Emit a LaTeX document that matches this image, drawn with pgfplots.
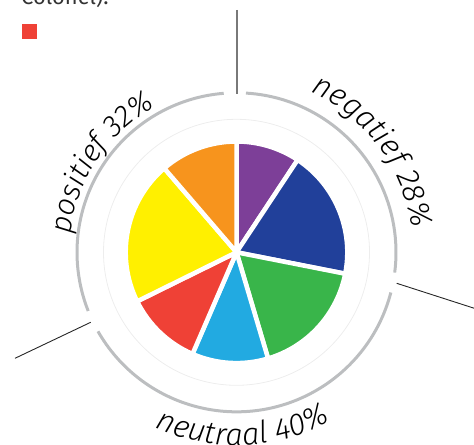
\documentclass[border=0pt]{standalone}
\usepackage{pgfplots}
\pgfplotsset{compat=1.18}
\usepackage{pgfplotstable}
\usepackage{fontspec}
\setmainfont{Fira Sans}
\newfontfamily\lbl{Fira Sans Light Italic}
\usetikzlibrary{decorations.text}

\definecolor{cpurple}{HTML}{7D3F98}
\definecolor{cblue}{HTML}{21409A}
\definecolor{cgreen}{HTML}{39B54A}
\definecolor{ccyan}{HTML}{22AAE1}
\definecolor{cred}{HTML}{EF4136}
\definecolor{cyellow}{HTML}{FFF000}
\definecolor{corange}{HTML}{F7941D}
\definecolor{ring}{HTML}{BCBEC0}

% slices clockwise from 12 o'clock, share in %
\pgfplotstableread{
share col
9.3  cpurple
18.8 cblue
17.3 cgreen
11.1 ccyan
11.2 cred
21.0 cyellow
11.3 corange
}\slices

\def\cx{236.5}
\def\cy{192.7}

\begin{document}
\begin{tikzpicture}
\path[use as bounding box] (0,0) rectangle (474bp,445bp);
\clip (0,0) rectangle (474bp,445bp);
\begin{axis}[
	at={(0,0)}, anchor=south west,
	scale only axis,
	width=474bp, height=445bp,
	xmin=0, xmax=474, ymin=0, ymax=445,
	hide axis, clip=false,
]
% divider lines between the three groups
\addplot[draw=gray!95!black, line width=2bp] coordinates {(236.6,435) (236.6,351)};
\addplot[draw=black!85, line width=0.9bp] coordinates {(396.7,161.7) (474.3,136.7)};
\addplot[draw=black!85, line width=0.9bp] coordinates {(90.7,122.7) (15,86.7)};

% faint inner circle and outer ring arcs
\draw[black!7, line width=0.8bp] (axis cs:\cx,\cy) circle[radius=133bp];
\draw[ring, line width=3bp] ([shift={(201.6:159.5bp)}]axis cs:\cx,\cy) arc[start angle=201.6, end angle=94.6, radius=159.5bp];
\draw[ring, line width=3bp] ([shift={(86.6:159.5bp)}]axis cs:\cx,\cy) arc[start angle=86.6, end angle=-7.3, radius=159.5bp];
\draw[ring, line width=3bp] ([shift={(-14.6:159.5bp)}]axis cs:\cx,\cy) arc[start angle=-14.6, end angle=-150.3, radius=159.5bp];

% pie slices
\def\ang{90}
\pgfplotsforeachungrouped \i in {0,...,6}{%
	\pgfplotstablegetelem{\i}{share}\of\slices \let\v\pgfplotsretval
	\pgfplotstablegetelem{\i}{col}\of\slices \let\c\pgfplotsretval
	\pgfmathsetmacro\endang{\ang-3.6*\v}
	\edef\cmd{\noexpand\fill[fill=\c, draw=white, line width=4.5bp, line join=round]
		(axis cs:\cx,\cy) -- ([shift={(\ang:110.8bp)}]axis cs:\cx,\cy)
		arc[start angle=\ang, end angle=\endang, radius=110.8bp] -- cycle;}%
	\cmd
	\let\ang\endang
}

% curved group labels
\path[decorate, decoration={text along path, text align=center,
	text={|\lbl\fontsize{30}{33}\selectfont|positief 32{\%}}}]
	([shift={(216.5:167bp)}]axis cs:\cx,\cy) arc[start angle=216.5, end angle=76.5, radius=167bp];
\path[decorate, decoration={text along path, text align=center,
	text={|\lbl\fontsize{31}{34}\selectfont|negatief 28{\%}}}]
	([shift={(106.5:177bp)}]axis cs:\cx,\cy) arc[start angle=106.5, end angle=-33.5, radius=177bp];
\path[decorate, decoration={text along path, text align=center,
	text={|\lbl\fontsize{31}{34}\selectfont|neutraal 40{\%}}}]
	([shift={(202:193bp)}]axis cs:\cx,\cy) arc[start angle=202, end angle=342, radius=193bp];

% cut-off legend text and marker at the top left
\node[anchor=base west, inner sep=0pt, font=\fontsize{22}{24}\selectfont, text=black!80] at (axis cs:21,440.5) {Colonel).};
\fill[cred] (axis cs:22,406) rectangle (axis cs:36.5,421);
\end{axis}
\end{tikzpicture}
\end{document}
